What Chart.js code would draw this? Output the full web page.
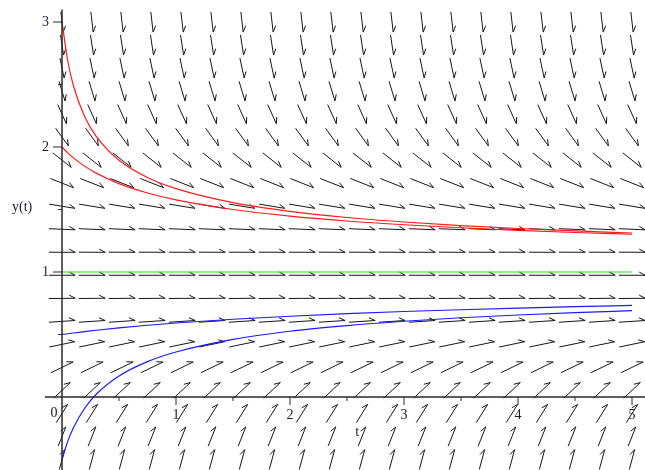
<!DOCTYPE html>
<html>
<head>
<meta charset="utf-8">
<title>Direction field y' = (1 - y)^3</title>
<script src="https://cdn.jsdelivr.net/npm/chart.js@4.4.0/dist/chart.umd.min.js"></script>
<style>
  html, body { margin: 0; padding: 0; background: #fff; }
  #wrap { width: 645px; height: 470px; }
</style>
</head>
<body>
<div id="wrap"><canvas id="field" width="645" height="470"></canvas></div>
<script>
// --- Direction field grid (20 x 20) ---
const fieldT = [0, 0.263, 0.526, 0.789, 1.053, 1.316, 1.579, 1.842, 2.105, 2.368,
                2.632, 2.895, 3.158, 3.421, 3.684, 3.947, 4.211, 4.474, 4.737, 5];
const fieldY = [-0.5, -0.316, -0.132, 0.053, 0.237, 0.421, 0.605, 0.789, 0.974, 1.158,
                1.342, 1.526, 1.711, 1.895, 2.079, 2.263, 2.447, 2.632, 2.816, 3];
// slope dy/dt read from the arrows of each row
const fieldSlope = [3.38, 2.28, 1.45, 0.85, 0.44, 0.19, 0.06, 0.01, 0, -0.004,
                    -0.04, -0.15, -0.36, -0.72, -1.26, -2.02, -3.03, -4.34, -5.99, -8];

// --- Solution curves ---
const curveT = [0, 0.05, 0.1, 0.2, 0.3, 0.5, 0.75, 1, 1.5, 2, 2.5, 3, 3.5, 4, 4.5, 5];
const redFrom3 = [3, 2.69, 2.49, 2.24, 2.085, 1.894, 1.756, 1.667, 1.555, 1.485, 1.436, 1.40, 1.371, 1.348, 1.329, 1.312];
const redFrom2 = [2, 1.953, 1.913, 1.845, 1.791, 1.707, 1.632, 1.577, 1.5, 1.447, 1.408, 1.378, 1.354, 1.333, 1.316, 1.302];
const blueFromHalf = [0.5, 0.506, 0.512, 0.523, 0.534, 0.553, 0.574, 0.592, 0.622, 0.646, 0.667, 0.684, 0.698, 0.711, 0.723, 0.733];
const blueFromMinusHalf = [-0.5, -0.355, -0.246, -0.088, 0.022, 0.168, 0.283, 0.36, 0.461, 0.526, 0.571, 0.606, 0.634, 0.656, 0.675, 0.691];
const greenT = [0, 5];
const greenY = [1, 1];

// --- Axis ticks ---
const xMajor = [1, 2, 3, 4, 5];
const xMinor = [0.5, 1.5, 2.5, 3.5, 4.5];
const yMajor = [1, 2, 3];
const yMinor = [0.5, 1.5, 2.5];

const FONT = '14px "Liberation Serif", "DejaVu Serif", serif';

function toPoints(ts, ys) {
    return ts.map((t, i) => ({ x: t, y: ys[i] }));
}

function curve(ts, ys, color) {
    return {
        data: toPoints(ts, ys),
        showLine: true,
        borderColor: color,
        borderWidth: 1.2,
        pointRadius: 0,
        cubicInterpolationMode: 'monotone',
        fill: false
    };
}

/**
 * Draws one arrow with a single barb at the tip
 */
function drawArrow(ctx, x0, y0, x1, y1) {
    const len = Math.hypot(x1 - x0, y1 - y0);
    const ux = (x1 - x0) / len, uy = (y1 - y0) / len;
    const nx = uy, ny = -ux;
    ctx.beginPath();
    ctx.moveTo(x0, y0);
    ctx.lineTo(x1, y1);
    ctx.lineTo(x1 - 6 * ux + 3.2 * nx, y1 - 6 * uy + 3.2 * ny);
    ctx.stroke();
}

// Arrows of the direction field
const fieldPlugin = {
    id: 'field',
    beforeDatasetsDraw(chart) {
        const { ctx, scales: { x, y } } = chart;
        const cellW = Math.abs(x.getPixelForValue(fieldT[1]) - x.getPixelForValue(fieldT[0]));
        const cellH = Math.abs(y.getPixelForValue(fieldY[1]) - y.getPixelForValue(fieldY[0]));
        ctx.save();
        ctx.strokeStyle = '#151515';
        ctx.lineWidth = 1;
        ctx.lineJoin = 'miter';
        fieldY.forEach((yv, r) => {
            const dx = x.getPixelForValue(1) - x.getPixelForValue(0);
            const dy = y.getPixelForValue(fieldSlope[r]) - y.getPixelForValue(0);
            const gx = dx / cellW, gy = dy / cellH;
            const k = 0.88 / Math.hypot(gx, gy);
            const hx = gx * k * cellW / 2, hy = gy * k * cellH / 2;
            fieldT.forEach(tv => {
                const cx = x.getPixelForValue(tv), cy = y.getPixelForValue(yv);
                drawArrow(ctx, cx - hx, cy - hy, cx + hx, cy + hy);
            });
        });
        ctx.restore();
    }
};

// Maple-style axes through the origin
const axesPlugin = {
    id: 'axes',
    afterDatasetsDraw(chart) {
        const { ctx, chartArea, scales: { x, y } } = chart;
        const x0 = x.getPixelForValue(0), y0 = y.getPixelForValue(0);
        ctx.save();
        ctx.strokeStyle = '#2a2a2a';
        ctx.lineWidth = 1.5;
        ctx.beginPath();
        ctx.moveTo(x.getPixelForValue(-0.15), y0);
        ctx.lineTo(chartArea.right, y0);
        ctx.moveTo(x0, chartArea.bottom);
        ctx.lineTo(x0, y.getPixelForValue(3.1));
        ctx.stroke();

        ctx.lineWidth = 1;
        ctx.beginPath();
        xMajor.forEach(v => { const p = x.getPixelForValue(v); ctx.moveTo(p, y0); ctx.lineTo(p, y0 + 8); });
        xMinor.forEach(v => { const p = x.getPixelForValue(v); ctx.moveTo(p, y0); ctx.lineTo(p, y0 + 4); });
        yMajor.forEach(v => { const p = y.getPixelForValue(v); ctx.moveTo(x0, p); ctx.lineTo(x0 - 9, p); });
        yMinor.forEach(v => { const p = y.getPixelForValue(v); ctx.moveTo(x0, p); ctx.lineTo(x0 - 4, p); });
        ctx.stroke();

        ctx.fillStyle = '#1a1a2e';
        ctx.font = FONT;
        ctx.textBaseline = 'middle';
        ctx.textAlign = 'center';
        xMajor.forEach(v => ctx.fillText(String(v), x.getPixelForValue(v), y0 + 18));
        ctx.fillText('0', x0 - 8, y0 + 16);
        ctx.textAlign = 'right';
        yMajor.forEach(v => ctx.fillText(String(v), x0 - 13, y.getPixelForValue(v)));
        ctx.textAlign = 'center';
        ctx.fillText('t', x.getPixelForValue(2.59), y.getPixelForValue(-0.28));
        ctx.fillText('y(t)', x.getPixelForValue(-0.35), y.getPixelForValue(1.52));
        ctx.restore();
    }
};

const chart = new Chart(document.getElementById('field'), {
    type: 'scatter',
    data: {
        datasets: [
            curve(greenT, greenY, '#1ee01e'),
            curve(curveT, redFrom3, '#ff1a1a'),
            curve(curveT, redFrom2, '#ff1a1a'),
            curve(curveT, blueFromHalf, '#1a1aff'),
            curve(curveT, blueFromMinusHalf, '#1a1aff')
        ]
    },
    options: {
        responsive: false,
        animation: false,
        layout: { padding: 0 },
        scales: {
            x: { type: 'linear', min: -0.544, max: 5.114, display: false },
            y: { type: 'linear', min: -0.584, max: 3.176, display: false }
        },
        plugins: {
            legend: { display: false },
            tooltip: { enabled: false }
        }
    },
    plugins: [fieldPlugin, axesPlugin]
});
</script>
</body>
</html>
